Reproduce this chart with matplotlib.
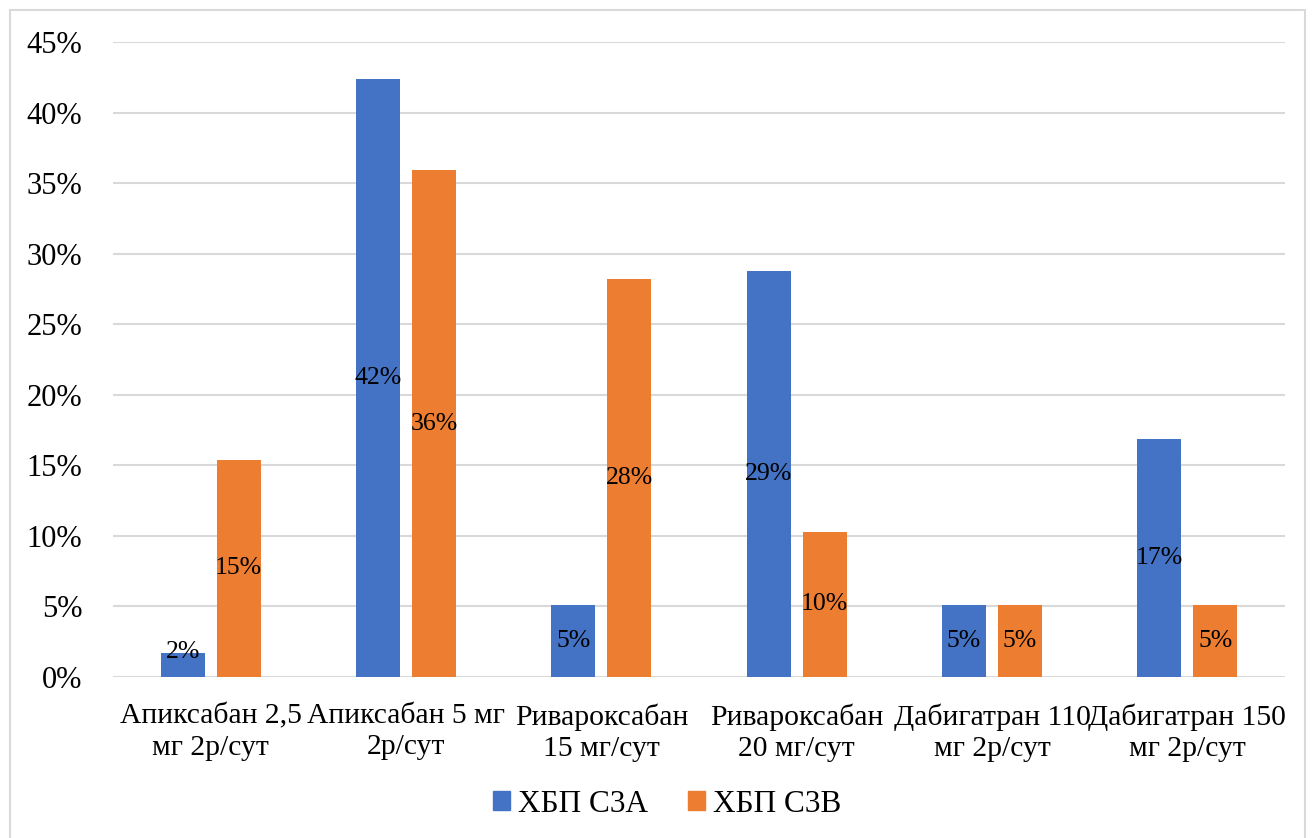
import matplotlib
matplotlib.use("Agg")
import matplotlib.pyplot as plt
import numpy as np
from matplotlib.patches import Rectangle, Patch

categories = ["Апиксабан 2,5\nмг 2р/сут", "Апиксабан 5 мг\n2р/сут", "Ривароксабан\n15 мг/сут",
              "Ривароксабан\n20 мг/сут", "Дабигатран 110\nмг 2р/сут", "Дабигатран 150\nмг 2р/сут"]
series_names = ["ХБП С3А", "ХБП С3В"]
s3a = [1.7, 42.4, 5.1, 28.8, 5.1, 16.9]
s3b = [15.4, 35.9, 28.2, 10.3, 5.1, 5.1]
s3a_labels = ["2%", "42%", "5%", "29%", "5%", "17%"]
s3b_labels = ["15%", "36%", "28%", "10%", "5%", "5%"]
yticks = [0, 5, 10, 15, 20, 25, 30, 35, 40, 45]

colors = ["#4472C4", "#ED7D31"]
W, H = 1314, 838
fig = plt.figure(figsize=(W / 100, H / 100), dpi=100)
plt.rcParams['font.family'] = ['Liberation Serif', 'DejaVu Serif']

ax = fig.add_axes([113 / W, 1 - 677 / H, (1285 - 113) / W, (677 - 42) / H])
x = np.arange(len(categories))
bw = 0.225
gap = 0.061
off = (bw + gap) / 2
b1 = ax.bar(x - off, s3a, bw, color=colors[0], zorder=3)
b2 = ax.bar(x + off, s3b, bw, color=colors[1], zorder=3)

for bars, labs in ((b1, s3a_labels), (b2, s3b_labels)):
    for r, lab in zip(bars, labs):
        h = r.get_height()
        ax.text(r.get_x() + r.get_width() / 2, max(h / 2, 1.75), lab, ha="center", va="center",
                fontsize=18.5, color="black", zorder=4)

ax.set_xlim(-0.5, len(categories) - 0.5)
ax.set_ylim(0, 45)
ax.set_yticks(yticks)
ax.set_yticklabels([f"{t}%" for t in yticks], fontsize=22)
ax.set_xticks(x)
ax.set_xticklabels(categories, fontsize=21.3, linespacing=1.25)
ax.tick_params(axis="both", length=0)
ax.tick_params(axis="y", pad=22)
ax.tick_params(axis="x", pad=19)
ax.grid(axis="y", color="#d9d9d9", linewidth=1.5, zorder=0)
for sp in ax.spines.values():
    sp.set_visible(False)

handles = [Patch(color=c) for c in colors]
fig.legend(handles, series_names, loc="center", bbox_to_anchor=(667 / W, 1 - 804 / H), ncol=2,
           frameon=False, fontsize=22.5, handlelength=0.55, handleheight=0.55,
           handletextpad=0.25, columnspacing=1.3)

fig.patches.append(Rectangle((10 / W, -0.05), (1305 - 10) / W, 1.05 - 10 / H, transform=fig.transFigure,
                             fill=False, edgecolor="#d9d9d9", linewidth=1.5))

fig.savefig("out.png", dpi=100, facecolor="white")
